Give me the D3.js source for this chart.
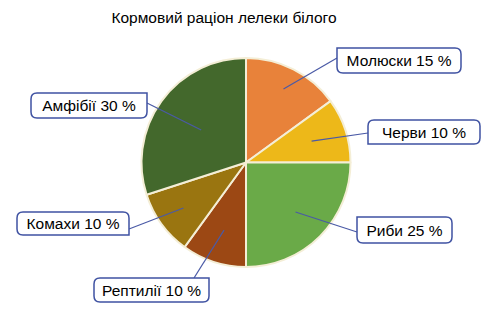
<!DOCTYPE html>
<html>
<head>
<meta charset="utf-8">
<script src="https://cdn.jsdelivr.net/npm/d3@7"></script>
<style>
  body { margin: 0; background: #fff; }
  text { font-family: "Liberation Sans", Arial, sans-serif; }
</style>
</head>
<body>
<div id="chart"></div>
<script>
// data
var categories = ["Молюски", "Черви", "Риби", "Рептилії", "Комахи", "Амфібії"];
var shares = [15, 10, 25, 10, 10, 30];
var colors = ["#E8823A", "#EDB819", "#6AAA48", "#9C4814", "#9A7510", "#43682C"];
var title = "Кормовий раціон лелеки білого";

// label layout: box [x, y, w, h], leader radius (fraction), sharp corner
var boxes = [
  { x: 337, y: 48, w: 124, h: 25, r: 0.79, attach: [337, 58], sharp: "tl" },
  { x: 368, y: 120, w: 112, h: 24, r: 0.66, attach: [368, 133], sharp: "bl" },
  { x: 357, y: 217, w: 95, h: 26, r: 0.67, attach: [357, 232], sharp: "tl" },
  { x: 94, y: 278, w: 115, h: 24, r: 0.68, attach: [194, 278], sharp: "tr" },
  { x: 17, y: 212, w: 112, h: 23, r: 0.74, attach: [129, 229], sharp: "br" },
  { x: 31, y: 93, w: 116, h: 25, r: 0.53, attach: [147, 103], sharp: "tr" }
];

var w = 489, h = 310;
var cx = 246, cy = 162.5, R = 104.5;

var svg = d3.select("#chart").append("svg").attr("width", w).attr("height", h);

svg.append("text").attr("x", 224).attr("y", 23).attr("text-anchor", "middle")
  .style("font-size", "15.5px").attr("fill", "#000").text(title);

var pie = d3.pie().sort(null).value(function(d) { return d; });
var arcs = pie(shares);
var arc = d3.arc().innerRadius(0).outerRadius(R);

var g = svg.append("g").attr("transform", "translate(" + cx + "," + cy + ")");

g.selectAll("path.slice").data(arcs).enter().append("path")
  .attr("class", "slice")
  .attr("d", arc)
  .attr("fill", function(d, i) { return colors[i]; })
  .attr("stroke", "#F4EED6").attr("stroke-width", 2).attr("stroke-linejoin", "round");

// rounded box with one sharp corner
function boxPath(b) {
  var r = 6, x0 = b.x, y0 = b.y, x1 = b.x + b.w, y1 = b.y + b.h;
  var rtl = b.sharp == "tl" ? 0 : r, rtr = b.sharp == "tr" ? 0 : r;
  var rbr = b.sharp == "br" ? 0 : r, rbl = b.sharp == "bl" ? 0 : r;
  return "M" + (x0 + rtl) + "," + y0 +
    "H" + (x1 - rtr) + (rtr ? "Q" + x1 + "," + y0 + " " + x1 + "," + (y0 + rtr) : "") +
    "V" + (y1 - rbr) + (rbr ? "Q" + x1 + "," + y1 + " " + (x1 - rbr) + "," + y1 : "") +
    "H" + (x0 + rbl) + (rbl ? "Q" + x0 + "," + y1 + " " + x0 + "," + (y1 - rbl) : "") +
    "V" + (y0 + rtl) + (rtl ? "Q" + x0 + "," + y0 + " " + (x0 + rtl) + "," + y0 : "") + "Z";
}

// leader lines
arcs.forEach(function(d, i) {
  var b = boxes[i];
  var inner = d3.arc().innerRadius(R * b.r).outerRadius(R * b.r).centroid(d);
  svg.append("line")
    .attr("x1", cx + inner[0]).attr("y1", cy + inner[1])
    .attr("x2", b.attach[0]).attr("y2", b.attach[1])
    .attr("stroke", "#4A5AA6").attr("stroke-width", 1.2);
});

// label boxes
boxes.forEach(function(b, i) {
  svg.append("path").attr("d", boxPath(b))
    .attr("fill", "#fff").attr("stroke", "#3F52A2").attr("stroke-width", 1.5);
  svg.append("text").attr("x", b.x + b.w / 2).attr("y", b.y + b.h / 2 + 5.5)
    .attr("text-anchor", "middle").style("font-size", "15.5px").attr("fill", "#000")
    .text(categories[i] + " " + shares[i] + " %");
});
</script>
</body>
</html>
